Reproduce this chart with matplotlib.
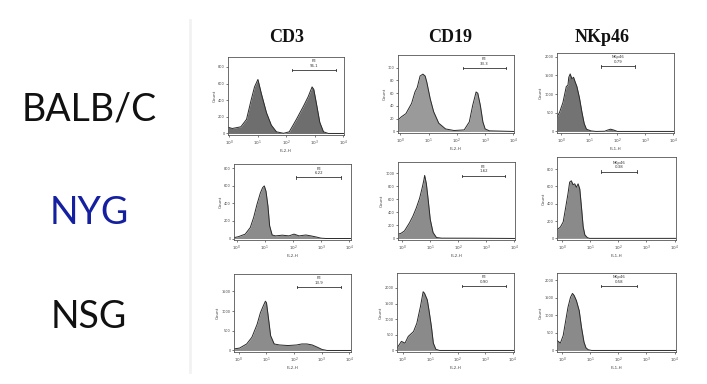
import matplotlib
matplotlib.use("Agg")
import matplotlib.pyplot as plt
import numpy as np

W, H = 707, 384

columns = ["CD3", "CD19", "NKp46"]
strains = ["BALB/C", "NYG", "NSG"]
strain_colors = ["#111111", "#1420a0", "#111111"]
x_labels = ["FL2-H", "FL2-H", "FL1-H"]
decade_ticks = [0, 1, 2, 3, 4]
decade_labels = ["$10^0$", "$10^1$", "$10^2$", "$10^3$", "$10^4$"]

# histogram traces: x in log10 decades, y in counts
bc_cd3_x = [-0.05, 0.1, 0.4, 0.6, 0.76, 0.88, 1.0, 1.12, 1.3, 1.47, 1.65, 1.9, 2.1, 2.35, 2.6, 2.76, 2.9, 2.96, 3.05, 3.17, 3.3, 3.47, 4.02]
bc_cd3_y = [75, 60, 80, 170, 400, 560, 650, 480, 250, 100, 20, 2, 20, 170, 330, 440, 560, 530, 365, 135, 20, 0, 0]
bc_cd19_x = [-0.08, 0.04, 0.2, 0.4, 0.52, 0.6, 0.7, 0.8, 0.88, 0.94, 1.06, 1.18, 1.36, 1.6, 1.9, 2.26, 2.44, 2.56, 2.68, 2.74, 2.83, 2.92, 3.0, 3.15, 4.02]
bc_cd19_y = [18, 23, 28, 44, 62, 69, 87, 90, 87, 77, 51, 31, 13, 4, 1.5, 2.5, 15, 41, 62, 60, 41, 15, 4, 1, 0]
bc_nk_x = [-0.15, -0.06, 0.06, 0.18, 0.24, 0.27, 0.32, 0.38, 0.44, 0.5, 0.56, 0.65, 0.74, 0.82, 0.9, 1.06, 1.24, 1.55, 1.65, 1.76, 1.88, 2.0, 4.02]
bc_nk_y = [385, 510, 770, 1200, 1240, 1450, 1540, 1410, 1450, 1320, 1200, 900, 510, 210, 60, 15, 0, 5, 35, 60, 35, 0, 0]

nyg_cd3_x = [-0.1, 0.05, 0.3, 0.48, 0.6, 0.72, 0.84, 0.92, 0.98, 1.04, 1.11, 1.17, 1.26, 1.38, 1.62, 1.86, 2.04, 2.22, 2.46, 2.64, 2.82, 3.0, 3.18, 4.07]
nyg_cd3_y = [10, 20, 50, 125, 240, 390, 520, 580, 600, 540, 370, 145, 40, 30, 38, 30, 50, 30, 40, 30, 18, 4, 0, 0]
nyg_cd19_x = [-0.15, -0.04, 0.08, 0.26, 0.38, 0.5, 0.62, 0.72, 0.77, 0.8, 0.86, 0.92, 1.0, 1.1, 1.22, 1.4, 2.5, 4.02]
nyg_cd19_y = [65, 80, 115, 240, 340, 465, 615, 790, 890, 965, 840, 615, 290, 90, 15, 5, 4, 0]
nyg_nk_x = [-0.18, -0.06, 0.04, 0.13, 0.21, 0.27, 0.33, 0.39, 0.45, 0.51, 0.57, 0.63, 0.69, 0.75, 0.81, 0.9, 0.98, 4.05]
nyg_nk_y = [100, 130, 190, 360, 515, 650, 665, 620, 630, 590, 630, 570, 360, 135, 40, 8, 0, 0]

nsg_cd3_x = [-0.18, 0.02, 0.28, 0.47, 0.66, 0.78, 0.88, 0.96, 1.0, 1.07, 1.15, 1.28, 1.47, 1.78, 2.1, 2.28, 2.47, 2.66, 2.84, 3.02, 3.2, 4.07]
nsg_cd3_y = [40, 60, 165, 335, 665, 960, 1125, 1250, 1210, 830, 375, 165, 140, 125, 140, 165, 165, 140, 85, 25, 0, 0]
nsg_cd19_x = [-0.2, -0.04, 0.09, 0.21, 0.4, 0.52, 0.65, 0.75, 0.8, 0.9, 0.96, 1.05, 1.12, 1.21, 1.34, 4.05]
nsg_cd19_y = [75, 290, 235, 450, 605, 870, 1400, 1880, 1830, 1620, 1300, 765, 235, 40, 0, 0]
nsg_nk_x = [-0.18, -0.06, 0.04, 0.13, 0.21, 0.3, 0.37, 0.43, 0.51, 0.61, 0.69, 0.78, 0.85, 0.93, 1.05, 4.05]
nsg_nk_y = [285, 210, 425, 850, 1225, 1510, 1620, 1560, 1415, 1130, 660, 235, 75, 20, 0, 0]

traces_x = [[bc_cd3_x, bc_cd19_x, bc_nk_x], [nyg_cd3_x, nyg_cd19_x, nyg_nk_x], [nsg_cd3_x, nsg_cd19_x, nsg_nk_x]]
traces_y = [[bc_cd3_y, bc_cd19_y, bc_nk_y], [nyg_cd3_y, nyg_cd19_y, nyg_nk_y], [nsg_cd3_y, nsg_cd19_y, nsg_nk_y]]

y_ticks = [[[0, 200, 400, 600, 800], [0, 20, 40, 60, 80, 100], [0, 500, 1000, 1500, 2000]],
           [[0, 200, 400, 600, 800], [0, 200, 400, 600, 800, 1000], [0, 200, 400, 600, 800]],
           [[0, 500, 1000, 1500], [0, 500, 1000, 1500, 2000], [0, 500, 1000, 1500, 2000]]]

gate_names = [["PE", "PE", "NKp46"], ["PE", "PE", "NKp46"], ["PE", "PE", "NKp46"]]
gate_values = [["96.1", "33.3", "0.79"], ["6.22", "1.62", "0.38"], ["13.9", "0.90", "0.58"]]
gate_ranges = [[(2.18, 3.73), (2.2, 3.75), (1.41, 2.62)],
               [(2.12, 3.71), (2.13, 3.66), (1.4, 2.65)],
               [(2.12, 3.71), (2.15, 3.75), (1.39, 2.65)]]

# layout (pixels): box left, top, right, bottom ; x-limits ; y-top
boxes = [[(228, 57, 344, 135), (398, 55, 514, 133), (557, 53, 674, 133)],
         [(234, 164, 351, 240), (398, 162, 515, 240), (557, 157, 676, 240)],
         [(234, 274, 351, 352), (397, 273, 514, 352), (557, 273, 676, 352)]]
xlims = [[(-0.05, 4.02), (-0.08, 4.02), (-0.15, 4.02)],
         [(-0.1, 4.07), (-0.15, 4.02), (-0.18, 4.05)],
         [(-0.18, 4.07), (-0.2, 4.05), (-0.18, 4.05)]]
ytops = [[920, 120, 2100], [850, 1170, 940], [1940, 2480, 2200]]
gate_y_frac = [0.83, 0.82, 0.83]
fills = [["#6e6e6e", "#9a9a9a", "#737373"],
         ["#8c8c8c", "#8c8c8c", "#8a8a8a"],
         ["#8c8c8c", "#8a8a8a", "#8a8a8a"]]

fig = plt.figure(figsize=(W / 100, H / 100), dpi=100)
fig.patch.set_facecolor("white")

# faint separator
fig.add_artist(plt.Line2D([190 / W, 190 / W], [1 - 20 / H, 1 - 372 / H], color="#f2f2f2", lw=2))

for r in range(3):
    for c in range(3):
        l, t, rr, b = boxes[r][c]
        ax = fig.add_axes([l / W, 1 - b / H, (rr - l) / W, (b - t) / H])
        xs = np.array(traces_x[r][c], dtype=float)
        ys = np.array(traces_y[r][c], dtype=float)
        ax.fill_between(xs, 0, ys, color=fills[r][c], lw=0)
        ax.plot(xs, ys, color="#2a2a2a", lw=0.7)
        ax.set_xlim(*xlims[r][c])
        ax.set_ylim(-ytops[r][c] * 0.02, ytops[r][c])
        ax.set_xticks(decade_ticks)
        ax.set_xticklabels(decade_labels, fontsize=3, color="#444444")
        ax.set_yticks(y_ticks[r][c])
        ax.set_yticklabels([str(v) for v in y_ticks[r][c]], fontsize=2.5, color="#444444")
        ax.tick_params(length=1.5, width=0.5, pad=1, colors="#444444")
        for s in ax.spines.values():
            s.set_linewidth(0.6)
            s.set_color("#555555")
        ax.set_ylabel("Count", fontsize=3, color="#444444", labelpad=1)
        ax.set_xlabel(x_labels[c], fontsize=3, color="#444444", labelpad=1)
        g0, g1 = gate_ranges[r][c]
        gy = ytops[r][c] * gate_y_frac[r]
        ax.plot([g0, g1], [gy, gy], color="#333333", lw=0.6)
        ax.plot([g0, g0], [gy * 0.98, gy * 1.02], color="#333333", lw=0.6)
        ax.plot([g1, g1], [gy * 0.98, gy * 1.02], color="#333333", lw=0.6)
        ax.text((g0 + g1) / 2, gy + ytops[r][c] * 0.03, gate_names[r][c] + "\n" + gate_values[r][c],
                ha="center", va="bottom", fontsize=2.8, color="#333333", linespacing=1.2)

title_x = [287, 450, 602]
for c in range(3):
    fig.text(title_x[c] / W, 1 - 37 / H, columns[c], ha="center", va="center",
             fontsize=13, fontweight="bold", family="Liberation Serif", color="#111111")

row_y = [110, 213, 317]
for r in range(3):
    fig.text(89 / W, 1 - row_y[r] / H, strains[r], ha="center", va="center",
             fontsize=27, family="Lato", color=strain_colors[r])

fig.savefig("out.png", dpi=100)
